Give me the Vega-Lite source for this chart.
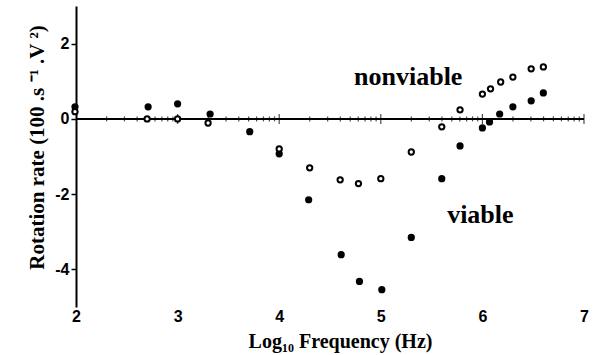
{
  "$schema": "https://vega.github.io/schema/vega-lite/v6.json",
  "width": 508,
  "height": 301,
  "autosize": {"type": "none"},
  "padding": {"left": 76, "top": 6, "right": 10, "bottom": 48},
  "background": "white",
  "config": {"view": {"stroke": null}},
  "datasets": {
    "points": [
      {"logf": 1.99, "rate": 0.32, "cells": "viable"},
      {"logf": 2.71, "rate": 0.32, "cells": "viable"},
      {"logf": 3.0, "rate": 0.4, "cells": "viable"},
      {"logf": 3.32, "rate": 0.13, "cells": "viable"},
      {"logf": 3.71, "rate": -0.34, "cells": "viable"},
      {"logf": 4.0, "rate": -0.93, "cells": "viable"},
      {"logf": 4.29, "rate": -2.15, "cells": "viable"},
      {"logf": 4.61, "rate": -3.61, "cells": "viable"},
      {"logf": 4.79, "rate": -4.32, "cells": "viable"},
      {"logf": 5.01, "rate": -4.54, "cells": "viable"},
      {"logf": 5.3, "rate": -3.15, "cells": "viable"},
      {"logf": 5.6, "rate": -1.59, "cells": "viable"},
      {"logf": 5.78, "rate": -0.72, "cells": "viable"},
      {"logf": 6.0, "rate": -0.24, "cells": "viable"},
      {"logf": 6.07, "rate": -0.08, "cells": "viable"},
      {"logf": 6.17, "rate": 0.13, "cells": "viable"},
      {"logf": 6.3, "rate": 0.32, "cells": "viable"},
      {"logf": 6.48, "rate": 0.48, "cells": "viable"},
      {"logf": 6.6, "rate": 0.69, "cells": "viable"},
      {"logf": 1.99, "rate": 0.19, "cells": "nonviable"},
      {"logf": 2.7, "rate": 0.0, "cells": "nonviable"},
      {"logf": 3.0, "rate": 0.0, "cells": "nonviable"},
      {"logf": 3.3, "rate": -0.11, "cells": "nonviable"},
      {"logf": 4.0, "rate": -0.8, "cells": "nonviable"},
      {"logf": 4.3, "rate": -1.3, "cells": "nonviable"},
      {"logf": 4.6, "rate": -1.62, "cells": "nonviable"},
      {"logf": 4.78, "rate": -1.72, "cells": "nonviable"},
      {"logf": 5.0, "rate": -1.59, "cells": "nonviable"},
      {"logf": 5.3, "rate": -0.88, "cells": "nonviable"},
      {"logf": 5.6, "rate": -0.21, "cells": "nonviable"},
      {"logf": 5.78, "rate": 0.24, "cells": "nonviable"},
      {"logf": 6.0, "rate": 0.66, "cells": "nonviable"},
      {"logf": 6.08, "rate": 0.8, "cells": "nonviable"},
      {"logf": 6.18, "rate": 0.98, "cells": "nonviable"},
      {"logf": 6.3, "rate": 1.11, "cells": "nonviable"},
      {"logf": 6.48, "rate": 1.33, "cells": "nonviable"},
      {"logf": 6.6, "rate": 1.38, "cells": "nonviable"}
    ],
    "labels": [
      {"logf": 5.27, "rate": 0.9, "text": "nonviable"},
      {"logf": 5.98, "rate": -2.76, "text": "viable"}
    ],
    "zero": [{"rate": 0}],
    "ticks": [
      {"pos": 2.301, "kind": "minor"}, {"pos": 2.477, "kind": "minor"}, {"pos": 2.602, "kind": "minor"}, {"pos": 2.699, "kind": "minor"}, {"pos": 2.778, "kind": "minor"}, {"pos": 2.845, "kind": "minor"}, {"pos": 2.903, "kind": "minor"}, {"pos": 2.954, "kind": "minor"},
      {"pos": 3.301, "kind": "minor"}, {"pos": 3.477, "kind": "minor"}, {"pos": 3.602, "kind": "minor"}, {"pos": 3.699, "kind": "minor"}, {"pos": 3.778, "kind": "minor"}, {"pos": 3.845, "kind": "minor"}, {"pos": 3.903, "kind": "minor"}, {"pos": 3.954, "kind": "minor"},
      {"pos": 4.301, "kind": "minor"}, {"pos": 4.477, "kind": "minor"}, {"pos": 4.602, "kind": "minor"}, {"pos": 4.699, "kind": "minor"}, {"pos": 4.778, "kind": "minor"}, {"pos": 4.845, "kind": "minor"}, {"pos": 4.903, "kind": "minor"}, {"pos": 4.954, "kind": "minor"},
      {"pos": 5.301, "kind": "minor"}, {"pos": 5.477, "kind": "minor"}, {"pos": 5.602, "kind": "minor"}, {"pos": 5.699, "kind": "minor"}, {"pos": 5.778, "kind": "minor"}, {"pos": 5.845, "kind": "minor"}, {"pos": 5.903, "kind": "minor"}, {"pos": 5.954, "kind": "minor"},
      {"pos": 6.301, "kind": "minor"}, {"pos": 6.477, "kind": "minor"}, {"pos": 6.602, "kind": "minor"}, {"pos": 6.699, "kind": "minor"}, {"pos": 6.778, "kind": "minor"}, {"pos": 6.845, "kind": "minor"}, {"pos": 6.903, "kind": "minor"}, {"pos": 6.954, "kind": "minor"},
      {"pos": 3, "kind": "major"}, {"pos": 4, "kind": "major"}, {"pos": 5, "kind": "major"}, {"pos": 6, "kind": "major"}, {"pos": 7, "kind": "major"}
    ]
  },
  "layer": [
    {
      "data": {"name": "zero"},
      "mark": {"type": "rule", "color": "black", "strokeWidth": 2},
      "encoding": {
        "y": {"field": "rate", "type": "quantitative"}
      }
    },
    {
      "data": {"name": "ticks"},
      "mark": {"type": "tick", "orient": "vertical", "color": "black", "thickness": 1.2},
      "encoding": {
        "x": {"field": "pos", "type": "quantitative"},
        "y": {"datum": 0, "type": "quantitative"},
        "size": {"field": "kind", "type": "nominal", "scale": {"domain": ["minor", "major"], "range": [5, 10]}, "legend": null}
      }
    },
    {
      "data": {"name": "points"},
      "transform": [{"filter": "datum.cells === 'viable'"}],
      "mark": {"type": "point", "shape": "circle", "filled": true, "color": "black", "size": 52, "opacity": 1},
      "encoding": {
        "x": {"field": "logf", "type": "quantitative"},
        "y": {"field": "rate", "type": "quantitative"}
      }
    },
    {
      "data": {"name": "points"},
      "transform": [{"filter": "datum.cells === 'nonviable'"}],
      "mark": {"type": "point", "shape": "circle", "filled": false, "fill": "white", "stroke": "black", "strokeWidth": 2, "size": 28, "opacity": 1, "fillOpacity": 1},
      "encoding": {
        "x": {"field": "logf", "type": "quantitative"},
        "y": {"field": "rate", "type": "quantitative"}
      }
    },
    {
      "data": {"name": "labels"},
      "mark": {"type": "text", "font": "Liberation Serif", "fontWeight": "bold", "fontSize": 26, "align": "center", "baseline": "alphabetic", "color": "black"},
      "encoding": {
        "x": {"field": "logf", "type": "quantitative"},
        "y": {"field": "rate", "type": "quantitative"},
        "text": {"field": "text"}
      }
    }
  ],
  "encoding": {
    "x": {
      "type": "quantitative",
      "scale": {"domain": [2, 7], "nice": false, "zero": false},
      "axis": {
        "title": "Log₁₀ Frequency (Hz)",
        "values": [2, 3, 4, 5, 6, 7],
        "domain": false,
        "ticks": false,
        "grid": false,
        "labelFont": "Liberation Sans",
        "labelFontWeight": "bold",
        "labelFontSize": 16,
        "labelColor": "black",
        "labelPadding": 1,
        "labelFlush": false,
        "labelExpr": "datum.value",
        "titleFont": "Liberation Serif",
        "titleFontWeight": "bold",
        "titleFontSize": 20,
        "titleColor": "black",
        "titlePadding": 7,
        "titleX": 264
      }
    },
    "y": {
      "type": "quantitative",
      "scale": {"domain": [-5, 3], "nice": false, "zero": false},
      "axis": {
        "title": "Rotation rate (100 .s ⁻¹ .V ²)",
        "values": [-4, -2, 0, 2],
        "grid": false,
        "domainColor": "black",
        "domainWidth": 2,
        "tickColor": "black",
        "tickWidth": 1.5,
        "tickSize": 5,
        "labelFont": "Liberation Sans",
        "labelFontWeight": "bold",
        "labelFontSize": 16,
        "labelColor": "black",
        "labelPadding": 2,
        "labelExpr": "datum.value",
        "titleFont": "Liberation Serif",
        "titleFontWeight": "bold",
        "titleFontSize": 21,
        "titleColor": "black",
        "titleX": -33,
        "titleY": 141,
        "titleBaseline": "alphabetic"
      }
    }
  }
}
